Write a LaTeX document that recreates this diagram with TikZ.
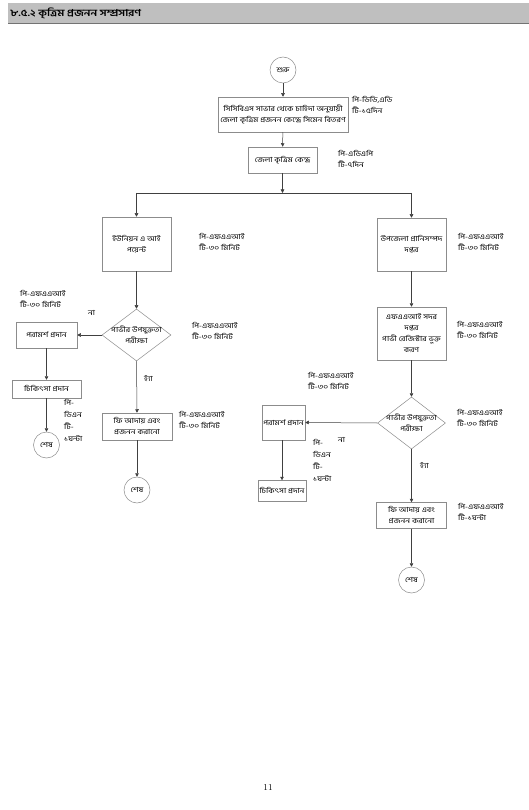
\documentclass[tikz,border=0pt]{standalone}
\usepackage{fontspec}
\newfontfamily\bn[Script=Bengali,FakeStretch=1.2]{Hind Siliguri}
\usetikzlibrary{shapes.geometric,arrows.meta}
\begin{document}
\begin{tikzpicture}[x=1pt,y=-1pt,
  font=\bn\fontsize{7}{11}\selectfont,
  box/.style={draw=black!45, line width=0.5pt, inner sep=1pt, align=center},
  term/.style={circle, draw=black!45, line width=0.5pt, minimum size=26pt, inner sep=0pt},
  dec/.style={diamond, draw=black!45, line width=0.5pt, inner sep=0pt},
  note/.style={align=left, inner sep=0pt, anchor=north west},
  conn/.style={draw=black!75, line width=0.5pt},
  arr/.style={conn, -{Triangle[length=3.5pt,width=3.5pt]}}]
\useasboundingbox (0,0) rectangle (529,810);
\fill[white] (0,0) rectangle (529,810);
% title bar
\fill[black!25] (8,3) rectangle (529,23);
\draw[black!55, line width=1.5pt] (8,23.5) -- (529,23.5);
\node[anchor=west, inner sep=0pt, font=\bn\bfseries\fontsize{9.5}{10}\selectfont] (title) at (10,13) {৮.৫.২ কৃত্রিম প্রজনন সম্প্রসারণ};
% top
\node[term] (start) at (283,70) {শুরু};
\node[box, minimum width=130pt, minimum height=35pt] (b1) at (283,114.5) {সিসিবিএস সাভার থেকে চাহিদা অনুযায়ী\\জেলা কৃত্রিম প্রজনন কেন্দ্রে সিমেন বিতরণ};
\node[note] (l1) at (352,96) {পি-ডিডি,এডি\\টি-১৫দিন};
\node[box, minimum width=69pt, minimum height=26pt] (b2) at (282.5,160) {জেলা কৃত্রিম কেন্দ্র};
\node[note] (l2) at (338,150) {পি-এডিএপি\\টি-৭দিন};
\coordinate (j) at (282.5,193);
\coordinate (jl) at (136.5,193);
\coordinate (jr) at (411.5,193);
% left branch
\node[box, minimum width=69pt, minimum height=54pt] (b3) at (136.5,244) {ইউনিয়ন এ আই\\পয়েন্ট};
\node[note] (l3) at (199,233) {পি-এফএএআই\\টি-৩০ মিনিট};
\node[dec, minimum width=69pt, minimum height=52pt, label={[align=center, inner sep=0pt]center:{গাভীর উপযুক্ততা\\পরীক্ষা}}] (d1) at (136.5,335) {};
\node[note] (l5) at (192,322) {পি-এফএএআই\\টি-৩০ মিনিট};
\node[box, minimum width=61pt, minimum height=26pt] (b5) at (46.5,335) {পরামর্শ প্রদান};
\node[note] (l6) at (20,290) {পি-এফএএআই\\টি-৩০ মিনিট};
\node[note] (na1) at (88,310) {না};
\node[box, minimum width=69pt, minimum height=18pt] (b6) at (46.5,389) {চিকিৎসা প্রদান};
\node[note, font=\bn\fontsize{7}{12}\selectfont] (l7) at (64,399) {পি-\\ডিএন\\টি-\\১ঘন্টা};
\node[term] (e1) at (46.5,445) {শেষ};
\node[note] (ha1) at (144,375) {হ্যাঁ};
\node[box, minimum width=70pt, minimum height=27pt] (b7) at (137,426.5) {ফি আদায় এবং\\প্রজনন করানো};
\node[note] (l8) at (179,411) {পি-এফএএআই\\টি-৩০ মিনিট};
\node[term] (e2) at (137,490) {শেষ};
% right branch
\node[box, minimum width=69pt, minimum height=53pt] (b4) at (411.5,244.5) {উপজেলা প্রানিসম্পদ\\দপ্তর};
\node[note] (l4) at (458,233) {পি-এফএএআই\\টি-৩০ মিনিট};
\node[box, minimum width=69pt, minimum height=53pt] (b8) at (411.5,333.5) {এফএএআই সদর\\দপ্তর\\গাভী রেজিস্টার ভুক্ত\\করণ};
\node[note] (l9) at (457,321) {পি-এফএএআই\\টি-৩০ মিনিট};
\node[dec, minimum width=68pt, minimum height=52pt, label={[align=center, inner sep=0pt]center:{গাভীর উপযুক্ততা\\পরীক্ষা}}] (d2) at (411.5,423) {};
\node[note] (l10) at (457,409) {পি-এফএএআই\\টি-৩০ মিনিট};
\node[box, minimum width=43pt, minimum height=35pt] (b9) at (283.5,422.5) {পরামর্শ প্রদান};
\node[note] (l11) at (308,372) {পি-এফএএআই\\টি-৩০ মিনিট};
\node[note] (na2) at (338,437) {না};
\node[note, font=\bn\fontsize{7}{12}\selectfont] (l12) at (313,439) {পি-\\ডিএন\\টি-\\১ঘন্টা};
\node[box, minimum width=48pt, minimum height=21pt] (b10) at (282,491) {চিকিৎসা প্রদান};
\node[note] (ha2) at (420,462) {হ্যাঁ};
\node[box, minimum width=70pt, minimum height=26pt] (b11) at (411.5,515.5) {ফি আদায় এবং\\প্রজনন করানো};
\node[note] (l13) at (458,503) {পি-এফএএআই\\টি-১ঘন্টা};
\node[term] (e3) at (411.5,580) {শেষ};
% page number
\node[font=\normalfont\fontsize{9}{10}\selectfont] (pg) at (268,787) {11};
% connectors
\draw[arr] (start) -- (b1);
\draw[arr] (b1) -- (b2);
\draw[arr] (b2) -- (j);
\draw[conn] (jl) -- (jr);
\draw[arr] (jl) -- (b3.north);
\draw[arr] (jr) -- (b4.north);
\draw[arr] (b3) -- (d1);
\draw[arr] (d1.west) -- (b5.east);
\draw[arr] (b5) -- (b6);
\draw[arr] (b6) -- (e1);
\draw[arr] (d1.south) -- (b7.north);
\draw[arr] (b7) -- (e2);
\draw[arr] (b4) -- (b8);
\draw[arr] (b8) -- (d2);
\draw[arr] (d2.west) -- (b9.east);
\draw[arr] (b9.south -| b10.north) -- (b10.north);
\draw[arr] (d2.south) -- (b11.north);
\draw[arr] (b11) -- (e3);
\end{tikzpicture}
\end{document}
